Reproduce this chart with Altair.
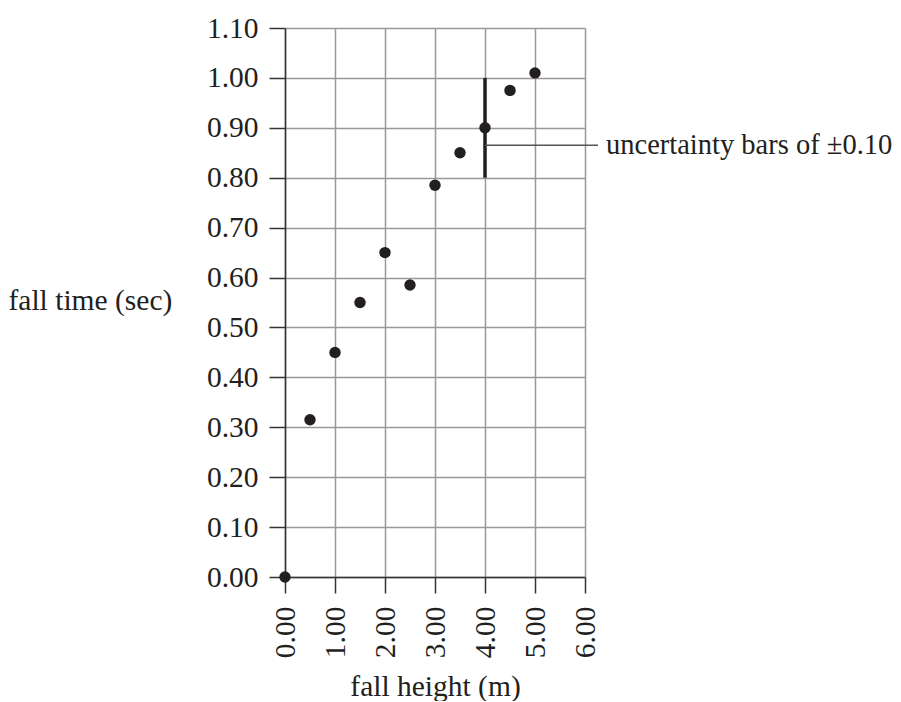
import altair as alt
import pandas as pd

heights = [0.0, 0.5, 1.0, 1.5, 2.0, 2.5, 3.0, 3.5, 4.0, 4.5, 5.0]
times = [0.0, 0.315, 0.45, 0.55, 0.65, 0.585, 0.785, 0.85, 0.90, 0.975, 1.01]

err_x = [4.0]
err_lo = [0.80]
err_hi = [1.00]

note_x = [4.0]
note_x2 = [6.26]
note_y = [0.865]
note_text = ["uncertainty bars of \u00b10.10"]

x_ticks = [0, 1, 2, 3, 4, 5, 6]
y_ticks = [round(i * 0.1, 2) for i in range(12)]

FONT = "Liberation Serif"
INK = "#231f20"
FS = 29.5

pts = pd.DataFrame({"h": heights, "t": times})
err = pd.DataFrame({"h": err_x, "lo": err_lo, "hi": err_hi})
note = pd.DataFrame({"x": note_x, "x2": note_x2, "y": note_y, "label": note_text})

xscale = alt.Scale(domain=[0, 6], nice=False, zero=False)
yscale = alt.Scale(domain=[0, 1.1], nice=False, zero=False)

xaxis = alt.Axis(
    values=x_ticks, format=".2f", labelAngle=270, title="fall height (m)",
    titleY=118, titleBaseline="alphabetic", titleFontWeight="normal",
    labelPadding=13,
)
yaxis = alt.Axis(
    values=y_ticks, format=".2f", title="fall time (sec)", titleAngle=0,
    titleAlign="left", titleBaseline="middle", titleX=-277, titleY=272,
    titleFontWeight="normal", labelPadding=11,
)

points = alt.Chart(pts).mark_circle(size=130, color=INK, opacity=1).encode(
    x=alt.X("h:Q", scale=xscale, axis=xaxis),
    y=alt.Y("t:Q", scale=yscale, axis=yaxis),
)

errbar = alt.Chart(err).mark_rule(color=INK, strokeWidth=3.5).encode(
    x="h:Q", y="lo:Q", y2="hi:Q"
)

leader = alt.Chart(note).mark_rule(color="#555555", strokeWidth=1.5).encode(
    x="x:Q", x2="x2:Q", y="y:Q"
)

label = alt.Chart(note).mark_text(
    align="left", baseline="middle", dx=8, font=FONT, fontSize=28.5, color=INK
).encode(x="x2:Q", y="y:Q", text="label:N")

chart = alt.layer(errbar, leader, points, label).properties(
    width=300, height=549,
    autosize=alt.AutoSizeParams(type="none"),
    padding={"left": 277, "top": 20, "right": 307, "bottom": 124},
).configure_view(stroke=None).configure_axis(
    labelFont=FONT, titleFont=FONT, labelFontSize=FS, titleFontSize=FS,
    labelColor=INK, titleColor=INK,
    gridColor="#999999", gridWidth=1.5, gridOpacity=1,
    domainColor="#333333", domainWidth=1.5,
    tickColor="#333333", tickWidth=1.5, tickSize=16,
)

chart.save("out.html", embed_options={"renderer": "svg", "actions": False})
